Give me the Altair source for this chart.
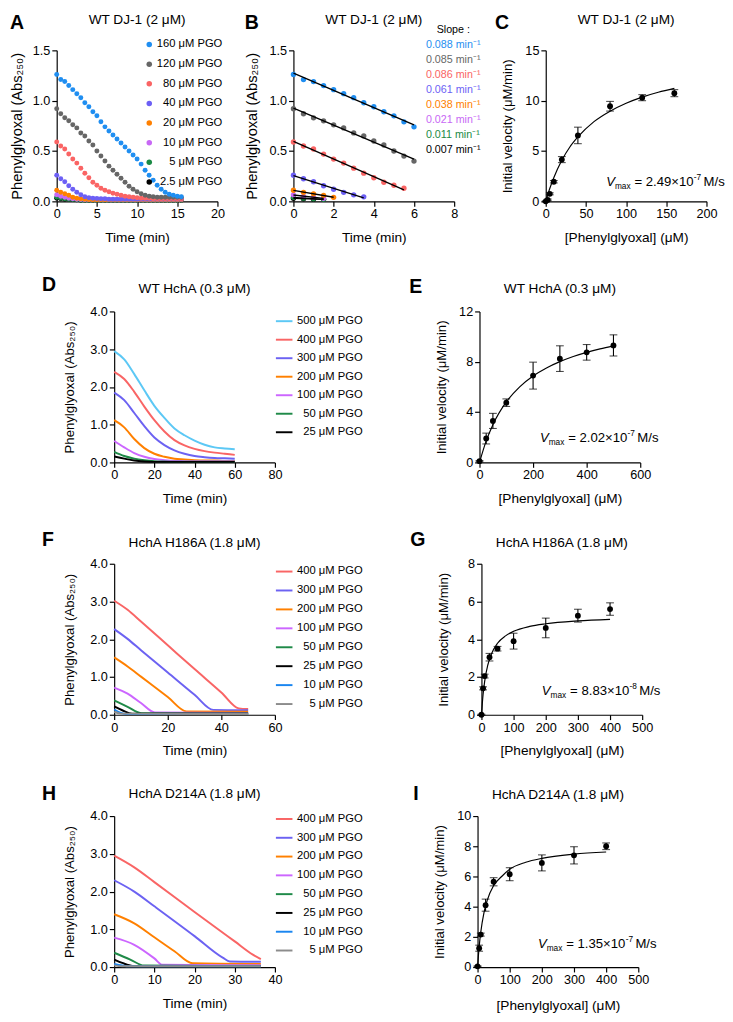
import altair as alt
import pandas as pd

FONT = "Liberation Sans"
PW, PH = 165, 155
ABS_TITLE = "Phenylglyoxal (Abs₂₅₀)"
VEL_TITLE = "Initial velocity (μM/min)"
CONC_TITLE = "[Phenylglyoxal] (μM)"
TIME_TITLE = "Time (min)"

# ---------------- Panels A / B : WT DJ-1 (2 μM), dots every 0.5 min ----------------
time_A = [0, 0.5, 1, 1.5, 2, 2.5, 3, 3.5, 4, 4.5, 5, 5.5, 6, 6.5, 7, 7.5,
          8, 8.5, 9, 9.5, 10, 10.5, 11, 11.5, 12, 12.5, 13, 13.5, 14, 14.5, 15, 15.5]
series_A = ["160 μM PGO", "120 μM PGO", "80 μM PGO", "40 μM PGO",
            "20 μM PGO", "10 μM PGO", "5 μM PGO", "2.5 μM PGO"]
colors_A = ["#1f8ef1", "#666666", "#fa6464", "#6c5ff5", "#ff8000", "#c868f5", "#1a8a45", "#000000"]
abs_160 = [1.26, 1.21, 1.19, 1.15, 1.11, 1.07, 1.03, 0.98, 0.94, 0.89, 0.85, 0.79, 0.74, 0.70, 0.66, 0.62,
           0.58, 0.54, 0.50, 0.46, 0.42, 0.37, 0.31, 0.26, 0.21, 0.16, 0.12, 0.09, 0.07, 0.06, 0.05, 0.045]
abs_120 = [0.92, 0.87, 0.83, 0.80, 0.76, 0.73, 0.68, 0.65, 0.60, 0.56, 0.50, 0.45, 0.40, 0.35, 0.31, 0.27,
           0.23, 0.19, 0.15, 0.12, 0.095, 0.075, 0.06, 0.05, 0.045, 0.04, 0.04, 0.04, 0.04, 0.04, 0.04, 0.04]
abs_80 = [0.59, 0.55, 0.52, 0.47, 0.42, 0.38, 0.33, 0.28, 0.235, 0.19, 0.16, 0.13, 0.11, 0.095, 0.08, 0.07,
          0.06, 0.05, 0.045, 0.04, 0.035, 0.03, 0.03, 0.03, 0.025, 0.025, 0.025, 0.025, 0.025, 0.025, 0.025, 0.025]
abs_40 = [0.26, 0.225, 0.195, 0.155, 0.12, 0.09, 0.065, 0.045, 0.035, 0.03, 0.028, 0.025, 0.025, 0.022, 0.022, 0.02,
          0.02, 0.02, 0.02, 0.02, 0.02, 0.02, 0.02, 0.02, 0.02, 0.02, 0.02, 0.02, 0.02, 0.02, 0.02, 0.02]
abs_20 = [0.11, 0.09, 0.075, 0.06, 0.04, 0.032, 0.025, 0.02, 0.018, 0.015, 0.015, 0.015, 0.015, 0.015, 0.015, 0.015,
          0.015, 0.015, 0.015, 0.015, 0.015, 0.015, 0.015, 0.015, 0.015, 0.015, 0.015, 0.015, 0.015, 0.015, 0.015, 0.015]
abs_10 = [0.065, 0.05, 0.04, 0.03, 0.025, 0.02, 0.018, 0.015, 0.015, 0.015, 0.015, 0.015, 0.015, 0.015, 0.015, 0.015,
          0.015, 0.015, 0.015, 0.015, 0.015, 0.015, 0.015, 0.015, 0.015, 0.015, 0.015, 0.015, 0.015, 0.015, 0.015, 0.015]
abs_5 = [0.04, 0.032, 0.025, 0.02, 0.018, 0.015, 0.012, 0.012, 0.012, 0.012, 0.012, 0.012, 0.012, 0.012, 0.012, 0.012,
         0.012, 0.012, 0.012, 0.012, 0.012, 0.012, 0.012, 0.012, 0.012, 0.012, 0.012, 0.012, 0.012, 0.012, 0.012, 0.012]
abs_2p5 = [0.03, 0.025, 0.022, 0.02, 0.018, 0.015, 0.012, 0.012, 0.012, 0.012, 0.012, 0.012, 0.012, 0.012, 0.012, 0.012,
           0.012, 0.012, 0.012, 0.012, 0.012, 0.012, 0.012, 0.012, 0.012, 0.012, 0.012, 0.012, 0.012, 0.012, 0.012, 0.012]
values_A = [abs_160, abs_120, abs_80, abs_40, abs_20, abs_10, abs_5, abs_2p5]
cut_B = [6, 6, 5.5, 3.5, 2, 1.5, 1.5, 1.5]       # last time point used for the initial-rate fits (B)
slopes_B = ["0.088 min⁻¹", "0.085 min⁻¹", "0.086 min⁻¹", "0.061 min⁻¹",
            "0.038 min⁻¹", "0.021 min⁻¹", "0.011 min⁻¹", "0.007 min⁻¹"]

# ---------------- Michaelis–Menten panels ----------------
conc_C = [0, 2.5, 5, 10, 20, 40, 80, 120, 160]
vel_C = [0.0, 0.15, 0.75, 1.95, 4.15, 6.55, 9.45, 10.3, 10.75]
err_C = [0.05, 0.08, 0.1, 0.12, 0.3, 0.82, 0.48, 0.3, 0.35]
fitx_C = [0, 5, 10, 20, 30, 40, 60, 80, 100, 120, 140, 160]
fity_C = [0, 1.28, 2.35, 4.08, 5.4, 6.4, 7.92, 8.96, 9.75, 10.36, 10.84, 11.22]

conc_E = [0, 25, 50, 100, 200, 300, 400, 500]
vel_E = [0.1, 1.9, 3.3, 4.75, 6.9, 8.25, 8.75, 9.3]
err_E = [0.05, 0.43, 0.6, 0.3, 1.07, 1.02, 0.62, 0.84]
fitx_E = [0, 25, 50, 100, 150, 200, 250, 300, 350, 400, 450, 500]
fity_E = [0, 1.71, 3.0, 4.81, 6.01, 6.87, 7.51, 8.01, 8.42, 8.75, 9.03, 9.27]

conc_G = [0, 5, 10, 25, 50, 100, 200, 300, 400]
vel_G = [0.0, 1.4, 2.05, 3.05, 3.5, 3.9, 4.6, 5.25, 5.6]
err_G = [0.03, 0.08, 0.1, 0.2, 0.12, 0.42, 0.52, 0.34, 0.33]
fitx_G = [0, 5, 10, 20, 30, 50, 75, 100, 150, 200, 300, 400]
fity_G = [0, 1.06, 1.77, 2.65, 3.18, 3.79, 4.18, 4.42, 4.68, 4.82, 4.97, 5.05]

conc_I = [0, 5, 10, 25, 50, 100, 200, 300, 400]
vel_I = [0.05, 1.25, 2.15, 4.1, 5.65, 6.15, 6.9, 7.4, 8.0]
err_I = [0.03, 0.2, 0.1, 0.4, 0.27, 0.43, 0.53, 0.57, 0.22]
fitx_I = [0, 5, 10, 20, 30, 50, 75, 100, 150, 200, 300, 400]
fity_I = [0, 1.35, 2.31, 3.6, 4.42, 5.4, 6.0, 6.48, 6.94, 7.2, 7.48, 7.62]

# ---------------- Continuous time courses (D, F, H) ----------------
series_D = ["500 μM PGO", "400 μM PGO", "300 μM PGO", "200 μM PGO", "100 μM PGO",
            "50 μM PGO", "25 μM PGO"]
colors_D = ["#5cc8f5", "#f96565", "#6c62f2", "#ff8000", "#cc66ff", "#1f8a48", "#000000"]
tD = [0, 5, 10, 15, 20, 25, 30, 35, 40, 45, 50, 55, 60]
times_D = [tD, tD, tD, tD, tD, tD, tD]
values_D = [
    [2.95, 2.73, 2.34, 1.91, 1.50, 1.18, 0.90, 0.72, 0.58, 0.47, 0.40, 0.37, 0.35],
    [2.40, 2.21, 1.87, 1.48, 1.12, 0.82, 0.59, 0.45, 0.36, 0.30, 0.26, 0.23, 0.20],
    [1.85, 1.65, 1.31, 0.96, 0.66, 0.46, 0.32, 0.23, 0.17, 0.14, 0.12, 0.11, 0.10],
    [1.12, 0.93, 0.62, 0.38, 0.23, 0.15, 0.10, 0.08, 0.06, 0.05, 0.05, 0.04, 0.04],
    [0.57, 0.40, 0.25, 0.15, 0.09, 0.06, 0.04, 0.035, 0.03, 0.03, 0.03, 0.03, 0.03],
    [0.28, 0.17, 0.10, 0.06, 0.035, 0.025, 0.02, 0.02, 0.02, 0.02, 0.02, 0.02, 0.02],
    [0.16, 0.10, 0.05, 0.025, 0.015, 0.015, 0.015, 0.015, 0.015, 0.015, 0.015, 0.015, 0.015],
]

series_FH = ["400 μM PGO", "300 μM PGO", "200 μM PGO", "100 μM PGO",
             "50 μM PGO", "25 μM PGO", "10 μM PGO", "5 μM PGO"]
colors_FH = ["#f96565", "#6c62f2", "#ff8000", "#cc66ff", "#1f8a48", "#000000", "#1a86f0", "#8c8c8c"]
times_F = [
    [0, 5, 10, 20, 30, 40, 46.5, 50],
    [0, 5, 10, 20, 30, 37, 50],
    [0, 5, 10, 20, 27, 50],
    [0, 5, 10, 15.2, 50],
    [0, 5, 10.3, 50],
    [0, 3, 6.7, 50],
    [0, 2.5, 4.5, 50],
    [0, 2.5, 50],
]
values_F = [
    [3.02, 2.78, 2.47, 1.84, 1.21, 0.59, 0.17, 0.15],
    [2.27, 2.01, 1.71, 1.12, 0.53, 0.13, 0.12],
    [1.52, 1.28, 1.01, 0.47, 0.09, 0.08],
    [0.72, 0.56, 0.31, 0.06, 0.05],
    [0.38, 0.21, 0.04, 0.035],
    [0.22, 0.12, 0.03, 0.025],
    [0.14, 0.05, 0.02, 0.02],
    [0.08, 0.03, 0.02],
]
times_H = [
    [0, 5, 10, 20, 30, 34.5, 36.5],
    [0, 5, 10, 20, 27, 28.8, 36.5],
    [0, 5, 10, 15, 19.5, 36.5],
    [0, 5, 10, 12, 36.5],
    [0, 4, 7.4, 36.5],
    [0, 2, 4.6, 36.5],
    [0, 2, 3.5, 36.5],
    [0, 2, 36.5],
]
values_H = [
    [2.95, 2.64, 2.25, 1.46, 0.68, 0.33, 0.21],
    [2.30, 2.00, 1.61, 0.82, 0.25, 0.15, 0.14],
    [1.40, 1.16, 0.79, 0.42, 0.10, 0.08],
    [0.78, 0.59, 0.23, 0.06, 0.05],
    [0.38, 0.20, 0.04, 0.03],
    [0.20, 0.11, 0.03, 0.02],
    [0.08, 0.04, 0.02, 0.02],
    [0.045, 0.02, 0.02],
]


# ---------------- helpers ----------------
def txt(s, dx, dy, size=12, align="left", baseline="alphabetic", weight="normal", style="normal", color="black"):
    return alt.Chart(pd.DataFrame({"t": [s]})).mark_text(
        align=align, baseline=baseline, fontSize=size, fontWeight=weight, fontStyle=style,
        font=FONT, color=color).encode(text="t:N", x=alt.value(dx), y=alt.value(dy))


def letter(s, dx, dy):
    return txt(s, dx, dy, size=20, baseline="top", weight="bold")


def title(s, dy):
    return txt(s, PW / 2, dy, size=14, align="center")


def edge(dx, y1=0, y2=1):
    # invisible marker that only widens the panel's layout bounds
    return alt.Chart(pd.DataFrame({"a": [0]})).mark_rule(opacity=0).encode(
        x=alt.value(dx), y=alt.value(y1), y2=alt.value(y2))


def xax(t, vals, ty=30, fmt=None):
    kw = dict(title=t, values=vals, titleY=ty, titleBaseline="top")
    if fmt:
        kw["format"] = fmt
    return alt.Axis(**kw)


def yax(t, vals, tx, fmt=None, fs=13.5):
    kw = dict(title=t, values=vals, titleX=tx, titleY=PH / 2, titleFontSize=fs)
    if fmt:
        kw["format"] = fmt
    return alt.Axis(**kw)


def vmax_layers(val, ex, dx=62, by=136):
    return [
        txt("V", dx, by, size=13.5, style="italic"),
        txt("max", dx + 9, by + 3, size=8.5),
        txt("= " + val + "×10", dx + 29, by, size=13.5),
        txt(ex, dx + 90, by - 6, size=8.5),
        txt("M/s", dx + 100, by, size=13.5),
    ]


def point_y(domain, lo, hi):
    return alt.Y("s:N", scale=alt.Scale(type="point", domain=domain, range=[lo, hi], padding=0), axis=None)


def mm_panel(let, let_pos, ttl, ttl_dy, conc, vel, err, fx, fy, xdom, xvals, ydom, yvals, val, ex,
             vby=136, xty=30):
    df = pd.DataFrame({"c": conc, "v": vel, "e": err})
    df["lo"] = df["v"] - df["e"]
    df["hi"] = df["v"] + df["e"]
    dff = pd.DataFrame({"c": fx, "v": fy})
    xs = alt.Scale(domain=xdom)
    ys = alt.Scale(domain=ydom)
    xa = xax(CONC_TITLE, xvals, ty=xty)
    ya = yax(VEL_TITLE, yvals, -32)
    curve = alt.Chart(dff).mark_line(interpolate="monotone", color="black", strokeWidth=1.2).encode(
        x=alt.X("c:Q", scale=xs, axis=xa), y=alt.Y("v:Q", scale=ys, axis=ya))
    bars = alt.Chart(df).mark_errorbar(ticks=True, size=8, thickness=1.1, color="black").encode(
        x=alt.X("c:Q", scale=xs, axis=xa), y=alt.Y("lo:Q", scale=ys, axis=ya), y2="hi:Q")
    pts = alt.Chart(df).mark_circle(size=36, color="black", opacity=1).encode(
        x=alt.X("c:Q", scale=xs, axis=xa), y=alt.Y("v:Q", scale=ys, axis=ya))
    layers = [curve, bars, pts] + vmax_layers(val, ex, by=vby) + [letter(let, *let_pos), title(ttl, ttl_dy)]
    return alt.layer(*layers).properties(width=PW, height=PH)


def line_panel(let, let_pos, ttl, ttl_dy, series, colors, times, values, xdom, xvals, leg_lo, leg_hi,
               right, top=0):
    rows = []
    for s, ts, vs in zip(series, times, values):
        for t, v in zip(ts, vs):
            rows.append({"s": s, "t": t, "v": v})
    df = pd.DataFrame(rows)
    cs = alt.Scale(domain=series, range=colors)
    lines = alt.Chart(df).mark_line(interpolate="monotone", strokeWidth=2).encode(
        x=alt.X("t:Q", scale=alt.Scale(domain=xdom), axis=xax(TIME_TITLE, xvals)),
        y=alt.Y("v:Q", scale=alt.Scale(domain=[0, 4]), axis=yax(ABS_TITLE, [0, 1, 2, 3, 4], -39, ".1f")),
        color=alt.Color("s:N", scale=cs, legend=None),
    )
    legdf = pd.DataFrame({"s": series})
    leg_line = alt.Chart(legdf).mark_rule(strokeWidth=2).encode(
        x=alt.value(166), x2=alt.value(183), y=point_y(series, leg_lo, leg_hi),
        color=alt.Color("s:N", scale=cs, legend=None))
    leg_txt = alt.Chart(legdf).mark_text(align="right", baseline="middle", fontSize=11.5, font=FONT,
                                         color="black").encode(
        x=alt.value(255), y=point_y(series, leg_lo, leg_hi), text="s:N")
    layers = [lines, leg_line, leg_txt, letter(let, *let_pos), title(ttl, ttl_dy), edge(right)]
    if top:
        layers.append(edge(PW / 2, top, top + 1))
    return alt.layer(*layers).resolve_scale(y="independent").properties(width=PW, height=PH)


# ---------------- Panel A ----------------
rowsA = []
for i, (s, vs) in enumerate(zip(series_A, values_A)):
    for t, v in zip(time_A, vs):
        rowsA.append({"s": s, "t": t, "v": v, "k": len(series_A) - i, "cut": cut_B[i]})
dfA = pd.DataFrame(rowsA)
dfB = dfA[dfA["t"] <= dfA["cut"]]
csA = alt.Scale(domain=series_A, range=colors_A)

ptsA = alt.Chart(dfA).mark_circle(size=26, opacity=1).encode(
    x=alt.X("t:Q", scale=alt.Scale(domain=[0, 20]), axis=xax(TIME_TITLE, [0, 5, 10, 15, 20])),
    y=alt.Y("v:Q", scale=alt.Scale(domain=[0, 1.5]),
            axis=yax(ABS_TITLE, [0, 0.5, 1, 1.5], -33, ".1f", fs=15)),
    color=alt.Color("s:N", scale=csA, legend=None),
    order=alt.Order("k:Q"),
)
legdfA = pd.DataFrame({"s": series_A})
legA_pts = alt.Chart(legdfA).mark_circle(size=32, opacity=1).encode(
    x=alt.value(95), y=point_y(series_A, -6, 135), color=alt.Color("s:N", scale=csA, legend=None))
legA_txt = alt.Chart(legdfA).mark_text(align="right", baseline="middle", fontSize=11.5, font=FONT,
                                       color="black").encode(
    x=alt.value(170), y=point_y(series_A, -6, 135), text="s:N")
panelA = alt.layer(ptsA, legA_pts, legA_txt, letter("A", -48, -38), title("WT DJ-1 (2 μM)", -27),
                   edge(176.5)).resolve_scale(y="independent").properties(width=PW, height=PH)

# ---------------- Panel B ----------------
xB = alt.X("t:Q", scale=alt.Scale(domain=[0, 8]), axis=xax(TIME_TITLE, [0, 2, 4, 6, 8]))
yB = alt.Y("v:Q", scale=alt.Scale(domain=[0, 1.5]),
           axis=yax(ABS_TITLE, [0, 0.5, 1, 1.5], -35, ".1f", fs=15))
ptsB = alt.Chart(dfB).mark_circle(size=30, opacity=1).encode(
    x=xB, y=yB, color=alt.Color("s:N", scale=csA, legend=None), order=alt.Order("k:Q"))
fitB = alt.Chart(dfB).transform_regression("t", "v", groupby=["s"]).mark_line(
    color="black", strokeWidth=1.4).encode(x=xB, y=yB, detail="s:N")
slopeT = alt.Chart(pd.DataFrame({"lab": slopes_B})).mark_text(
    align="left", baseline="middle", fontSize=11, font=FONT).encode(
    text="lab:N", x=alt.value(136),
    y=alt.Y("lab:N", scale=alt.Scale(type="point", domain=slopes_B, range=[-5, 102], padding=0), axis=None),
    color=alt.Color("lab:N", scale=alt.Scale(domain=slopes_B, range=colors_A), legend=None),
)
panelB = alt.layer(alt.layer(ptsB, fitB), slopeT, txt("Slope :", 147, -18, size=11),
                   letter("B", -50, -38), title("WT DJ-1 (2 μM)", -27)
                   ).resolve_scale(y="independent", color="independent").properties(width=PW, height=PH)

# ---------------- Panel C, E, G, I ----------------
panelC = mm_panel("C", (-52, -38), "WT DJ-1 (2 μM)", -27, conc_C, vel_C, err_C, fitx_C, fity_C,
                  [0, 200], [0, 50, 100, 150, 200], [0, 15], [0, 5, 10, 15], "2.49", "-7", vby=139)
panelE = mm_panel("E", (-72, -35), "WT HchA (0.3 μM)", -19, conc_E, vel_E, err_E, fitx_E, fity_E,
                  [0, 600], [0, 200, 400, 600], [0, 12], [0, 4, 8, 12], "2.02", "-7", vby=134)
panelG = mm_panel("G", (-73, -34), "HchA H186A (1.8 μM)", -17, conc_G, vel_G, err_G, fitx_G, fity_G,
                  [0, 500], [0, 100, 200, 300, 400, 500], [0, 8], [0, 2, 4, 6, 8], "8.83", "-8", vby=135)
panelI = mm_panel("I", (-66, -32), "HchA D214A (1.8 μM)", -18, conc_I, vel_I, err_I, fitx_I, fity_I,
                  [0, 500], [0, 100, 200, 300, 400, 500], [0, 10], [0, 2, 4, 6, 8, 10], "1.35", "-7",
                  vby=135, xty=33)

# ---------------- Panel D, F, H ----------------
panelD = line_panel("D", (-74, -37), "WT HchA (0.3 μM)", -19, series_D, colors_D, times_D, values_D,
                    [0, 80], [0, 20, 40, 60, 80], 10, 124, 260)
panelF = line_panel("F", (-74, -34), "HchA H186A (1.8 μM)", -17, series_FH, colors_FH, times_F, values_F,
                    [0, 60], [0, 20, 40, 60], 8, 144, 260, top=-40)
panelH = line_panel("H", (-74, -32), "HchA D214A (1.8 μM)", -19, series_FH, colors_FH, times_H, values_H,
                    [0, 40], [0, 10, 20, 30, 40], 3, 138, 259, top=-40)


def spacer():
    return alt.Chart(pd.DataFrame({"a": [0]})).mark_point(size=0, opacity=0).encode(
        x=alt.X("a:Q", axis=None), y=alt.Y("a:Q", axis=None)).properties(width=1, height=1)


def row(first_gap, panels, gap):
    inner = alt.hconcat(*panels, spacing=gap).resolve_scale(color="independent")
    return alt.hconcat(spacer(), inner, spacing=first_gap).resolve_scale(color="independent")


row1 = row(0, [panelA, panelB, panelC], 15)
row2 = row(34, [panelD, panelE], 43)
row3 = row(34, [panelF, panelG], 44)
row4 = row(34, [panelH, panelI], 48)
rest = alt.vconcat(row2, row3, row4, spacing=20).resolve_scale(color="independent")

chart = alt.vconcat(row1, rest, spacing=32).resolve_scale(color="independent").properties(
    padding={"left": 0, "top": -8, "right": 0, "bottom": 0}, background="white"
).configure_view(stroke=None).configure_axis(
    domainColor="black", tickColor="black", labelColor="black", titleColor="black", grid=False,
    tickSize=5, labelPadding=2, labelFontSize=13, titleFontWeight="normal",
    labelFont=FONT, titleFont=FONT, domainWidth=1.2, tickWidth=1.2, labelFlush=False,
).configure_axisX(titleFontSize=14)

chart.save("out.html", embed_options={"renderer": "svg", "actions": False})
